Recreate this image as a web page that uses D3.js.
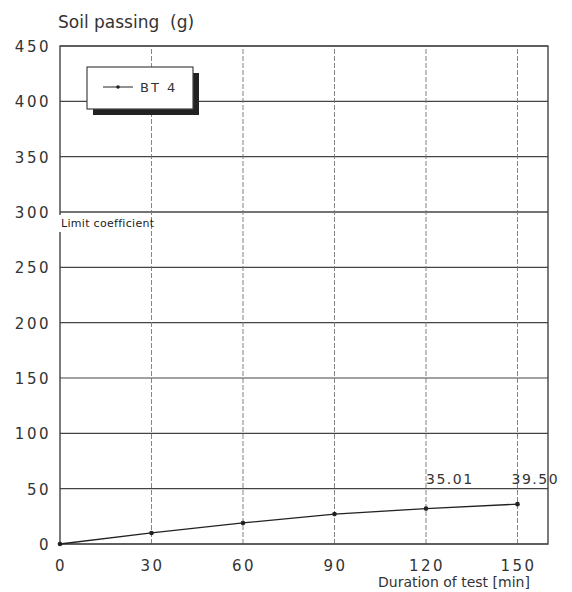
<!DOCTYPE html>
<html>
<head>
<meta charset="utf-8">
<script src="https://cdn.jsdelivr.net/npm/d3@7"></script>
<style>
  body { margin: 0; background: #fff; }
  svg text { font-family: "DejaVu Sans", sans-serif; fill: #333; white-space: pre; }
</style>
</head>
<body>
<svg width="572" height="592"></svg>
<script>
// values
var minutes = [0, 30, 60, 90, 120, 150];
var soilPassing = [0, 10, 19, 27, 32, 36];
var xTicks = [0, 30, 60, 90, 120, 150];
var yTicks = [0, 50, 100, 150, 200, 250, 300, 350, 400, 450];
var pointLabels = ["35.01", "39.50"];
var labelAt = [120, 150];
var limitValue = 300;
var seriesName = "BT 4";

var margin = {top: 46, right: 24, bottom: 48, left: 60};
var width = 572, height = 592;

var svg = d3.select("svg");

var x = d3.scaleLinear().domain([0, 160]).range([margin.left, width - margin.right]);
var y = d3.scaleLinear().domain([0, 450]).range([height - margin.bottom, margin.top]);

// horizontal grid
svg.append("g")
    .selectAll("line")
    .data(yTicks)
    .enter().append("line")
    .attr("x1", x(0)).attr("x2", x(160))
    .attr("y1", function (d) { return y(d); })
    .attr("y2", function (d) { return y(d); })
    .attr("stroke", "#444")
    .attr("stroke-width", function (d) { return d === limitValue ? 1.6 : 1.1; });

// vertical grid, dashed and lighter
svg.append("g")
    .selectAll("line")
    .data(xTicks.slice(1))
    .enter().append("line")
    .attr("x1", function (d) { return x(d); })
    .attr("x2", function (d) { return x(d); })
    .attr("y1", y(0)).attr("y2", y(450))
    .attr("stroke", "#777")
    .attr("stroke-width", 0.9)
    .attr("stroke-dasharray", "5,2");

// frame
svg.append("rect")
    .attr("x", x(0)).attr("y", y(450))
    .attr("width", x(160) - x(0)).attr("height", y(0) - y(450))
    .attr("fill", "none")
    .attr("stroke", "#444")
    .attr("stroke-width", 1.4);

// y tick labels
svg.append("g")
    .selectAll("text")
    .data(yTicks)
    .enter().append("text")
    .attr("x", x(0) - 9)
    .attr("y", function (d) { return y(d) + 6; })
    .attr("text-anchor", "end")
    .style("font-size", "15px")
    .style("letter-spacing", "2.5px")
    .text(function (d) { return d; });

// x tick labels
svg.append("g")
    .selectAll("text")
    .data(xTicks)
    .enter().append("text")
    .attr("x", function (d) { return x(d) + 1; })
    .attr("y", y(0) + 27)
    .attr("text-anchor", "middle")
    .style("font-size", "15px")
    .style("letter-spacing", "2.5px")
    .text(function (d) { return d; });

// limit label
svg.append("text")
    .attr("x", x(0) + 1)
    .attr("y", y(limitValue) + 15)
    .style("font-size", "11px")
    .style("letter-spacing", "0.3px")
    .style("fill", "#222")
    .text("Limit coefficient");

// gap in the left border below the limit label
svg.append("line")
    .attr("x1", x(0)).attr("x2", x(0))
    .attr("y1", y(limitValue) + 3).attr("y2", y(limitValue) + 20)
    .attr("stroke", "#fff").attr("stroke-width", 3);

// series line
var line = d3.line()
    .x(function (d, i) { return x(minutes[i]); })
    .y(function (d) { return y(d); });

svg.append("path")
    .datum(soilPassing)
    .attr("d", line)
    .attr("fill", "none")
    .attr("stroke", "#222")
    .attr("stroke-width", 1.3);

svg.append("g")
    .selectAll("circle")
    .data(soilPassing)
    .enter().append("circle")
    .attr("cx", function (d, i) { return x(minutes[i]); })
    .attr("cy", function (d) { return y(d); })
    .attr("r", 2.3)
    .attr("fill", "#222");

// value labels
svg.append("g")
    .selectAll("text")
    .data(pointLabels)
    .enter().append("text")
    .attr("x", function (d, i) { return x(labelAt[i]) - (i ? 6 : 0); })
    .attr("y", y(0) - 60)
    .style("font-size", "14px")
    .style("letter-spacing", "1.5px")
    .text(function (d) { return d; });

// legend with shadow
var lg = svg.append("g").attr("transform", "translate(87,67)");
lg.append("rect")
    .attr("x", 6).attr("y", 6)
    .attr("width", 106).attr("height", 42)
    .attr("fill", "#222");
lg.append("rect")
    .attr("x", 0).attr("y", 0)
    .attr("width", 106).attr("height", 42)
    .attr("fill", "#fff")
    .attr("stroke", "#444")
    .attr("stroke-width", 1.2);
lg.append("line")
    .attr("x1", 16).attr("x2", 46)
    .attr("y1", 20).attr("y2", 20)
    .attr("stroke", "#222");
lg.append("circle")
    .attr("cx", 31).attr("cy", 20).attr("r", 1.8).attr("fill", "#222");
lg.append("text")
    .attr("x", 53).attr("y", 25)
    .style("font-size", "13px")
    .style("letter-spacing", "2px")
    .text(seriesName);

// titles
svg.append("text")
    .attr("x", 58).attr("y", 28)
    .style("font-size", "17px")
    .text("Soil passing  (g)");

svg.append("text")
    .attr("x", 378).attr("y", 587)
    .style("font-size", "14px")
    .text("Duration of test [min]");
</script>
</body>
</html>
